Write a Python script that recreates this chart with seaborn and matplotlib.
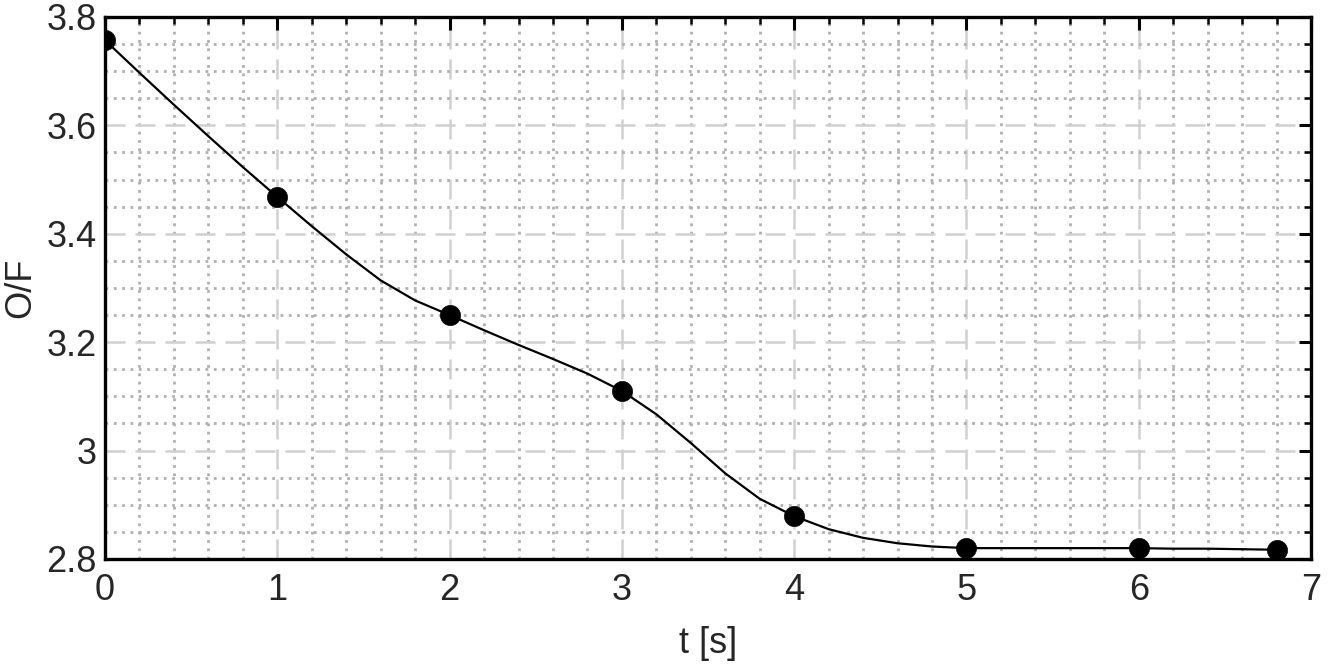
import numpy as np
import pandas as pd
import matplotlib
matplotlib.use("Agg")
import matplotlib.pyplot as plt
from matplotlib.ticker import MultipleLocator
import seaborn as sns

# measured O/F points
t_points = [0, 1, 2, 3, 4, 5, 6, 6.8]
of_points = [3.757, 3.468, 3.250, 3.110, 2.879, 2.820, 2.820, 2.817]

# smooth curve (every 0.2 s)
t_curve = [0.0, 0.2, 0.4, 0.6, 0.8,
           1.0, 1.2, 1.4, 1.6, 1.8,
           2.0, 2.2, 2.4, 2.6, 2.8,
           3.0, 3.2, 3.4, 3.6, 3.8,
           4.0, 4.2, 4.4, 4.6, 4.8,
           5.0, 5.2, 5.4, 5.6, 5.8,
           6.0, 6.2, 6.4, 6.6, 6.8]
of_curve = [3.757, 3.697, 3.638, 3.580, 3.523,
            3.468, 3.414, 3.362, 3.314, 3.277,
            3.250, 3.222, 3.195, 3.169, 3.142,
            3.110, 3.067, 3.014, 2.958, 2.911,
            2.879, 2.855, 2.839, 2.829, 2.823,
            2.820, 2.820, 2.820, 2.820, 2.820,
            2.820, 2.819, 2.819, 2.818, 2.817]

pts = pd.DataFrame({"t": t_points, "OF": of_points})
curve = pd.DataFrame({"t": t_curve, "OF": of_curve})

sns.set_theme(style="white")
plt.rcParams["font.family"] = ["Liberation Sans", "DejaVu Sans"]

fig = plt.figure(figsize=(13.33, 6.66), dpi=100)
ax = fig.add_axes([0.0788, 0.1607, 0.9047, 0.8138])

sns.lineplot(data=curve, x="t", y="OF", color="black", linewidth=1.6, ax=ax,
             zorder=3)
sns.scatterplot(data=pts, x="t", y="OF", color="black", s=210, edgecolor="black",
                linewidth=0.5, ax=ax, zorder=4)

ax.set_xlim(0, 7)
ax.set_ylim(2.8, 3.8)
ax.xaxis.set_major_locator(MultipleLocator(1))
ax.xaxis.set_minor_locator(MultipleLocator(0.2))
ax.yaxis.set_major_locator(MultipleLocator(0.2))
ax.yaxis.set_minor_locator(MultipleLocator(0.05))
ax.set_yticks([2.8, 3.0, 3.2, 3.4, 3.6, 3.8])
ax.set_yticklabels(["2.8", "3", "3.2", "3.4", "3.6", "3.8"])

ax.grid(True, which="major", color="#d0d0d0", linestyle=(0, (8, 4)), linewidth=1.8)
ax.grid(True, which="minor", color="#b0b0b0", linestyle=(0, (1, 2)), linewidth=2.0)

ax.tick_params(which="both", direction="in", top=True, right=True,
               color="black", labelsize=26, labelcolor="#262626")
ax.tick_params(which="major", length=9, width=2.2)
ax.tick_params(which="minor", length=5, width=1.8)
ax.tick_params(axis="x", which="major", pad=10)
ax.tick_params(axis="y", which="major", pad=6)

for s in ax.spines.values():
    s.set_visible(True)
    s.set_color("black")
    s.set_linewidth(2.4)

ax.set_xlabel("t [s]", fontsize=26, color="#262626", labelpad=13)
ax.set_ylabel("O/F", fontsize=26, color="#262626", labelpad=6)

fig.savefig("out.png", dpi=100)
